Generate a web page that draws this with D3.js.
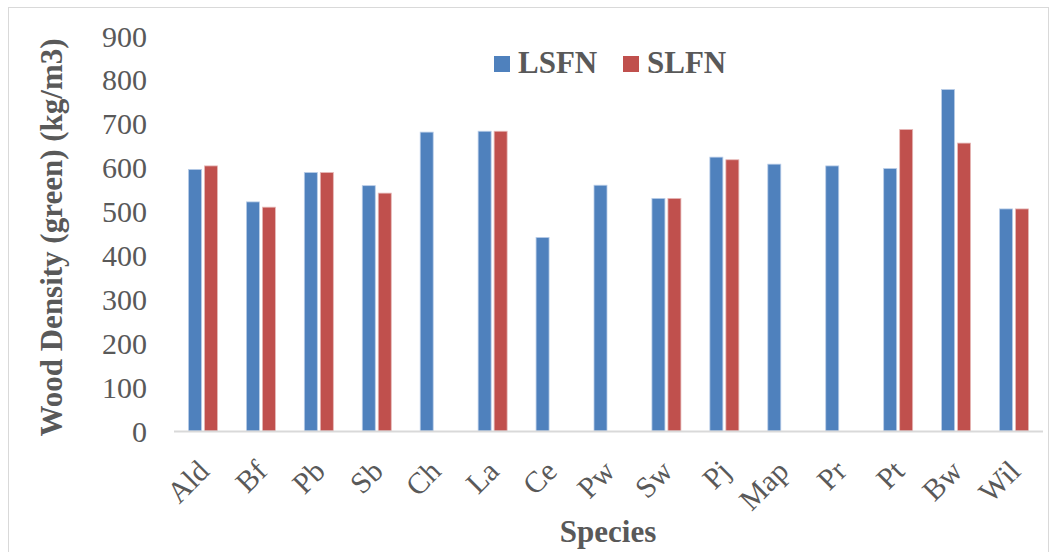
<!DOCTYPE html>
<html><head><meta charset="utf-8">
<script src="https://cdn.jsdelivr.net/npm/d3@7"></script>
<style>body{margin:0;background:#fff}svg{display:block}</style>
</head><body>
<script>
const categories = ["Ald","Bf","Pb","Sb","Ch","La","Ce","Pw","Sw","Pj","Map","Pr","Pt","Bw","Wil"];
const seriesNames = ["LSFN","SLFN"];
const lsfn = [596,522,589,559,681,683,441,560,530,624,608,604,598,778,506];
const slfn = [604,510,589,542,null,683,null,null,530,618,null,null,687,656,506];
const yTicks = [0,100,200,300,400,500,600,700,800,900];
const colors = ["#4F81BD","#C0504D"];

(function(){
const W = 1052, H = 552;
const svg = d3.select("body").append("svg").attr("width", W).attr("height", H);
svg.append("rect").attr("x",8.5).attr("y",7.5).attr("width",1040).attr("height",560)
  .attr("fill","#fff").attr("stroke","#d9d9d9");

const pLeft = 174, pRight = 1043, pTop = 36, pBottom = 431;
const x = d3.scaleBand().domain(categories).range([pLeft, pRight]);
const y = d3.scaleLinear().domain([0, 900]).range([pBottom, pTop]);
const barW = 13, gap = 3;

const font = "'Liberation Serif','Times New Roman',serif";
const txt = "#595959";

svg.append("g").selectAll("text").data(yTicks).join("text")
  .attr("x", 147).attr("y", d => y(d)).attr("dy","0.35em")
  .attr("text-anchor","end").attr("font-family",font).attr("font-size",30)
  .attr("fill",txt).text(d => d);

const data = [];
categories.forEach((c,i) => {
  [lsfn[i], slfn[i]].forEach((v,s) => { if (v != null) data.push({c, v, s}); });
});
svg.append("g").selectAll("rect").data(data).join("rect")
  .attr("x", d => x(d.c) + x.bandwidth()/2 + (d.s === 0 ? -(barW + gap/2) : gap/2))
  .attr("y", d => y(d.v)).attr("width", barW).attr("height", d => pBottom - y(d.v))
  .attr("fill", d => colors[d.s])
  .attr("stroke", d => d.s === 0 ? "#b9cde8" : "#e6b9b8").attr("stroke-width", 0.8);

svg.append("line").attr("x1", pLeft).attr("x2", pRight).attr("y1", pBottom+0.5).attr("y2", pBottom+0.5)
  .attr("stroke","#d9d9d9").attr("stroke-width",2);

svg.append("g").selectAll("text").data(categories).join("text")
  .attr("transform", d => `translate(${x(d) + x.bandwidth()/2 + 8},${pBottom + 42}) rotate(-45)`)
  .attr("text-anchor","end").attr("font-family",font).attr("font-size",30)
  .attr("fill",txt).text(d => d);

svg.append("text").attr("transform", `translate(62,${(pTop+pBottom)/2+4}) rotate(-90)`)
  .attr("text-anchor","middle").attr("font-family",font).attr("font-size",31).attr("font-weight","bold")
  .attr("fill",txt).text("Wood Density (green) (kg/m3)");
svg.append("text").attr("x", 608).attr("y", 542)
  .attr("text-anchor","middle").attr("font-family",font).attr("font-size",31).attr("font-weight","bold")
  .attr("fill",txt).text("Species");

const leg = svg.append("g");
const legX = [494, 623];
seriesNames.forEach((n,i) => {
  leg.append("rect").attr("x", legX[i]).attr("y", 56).attr("width", 16).attr("height", 16).attr("fill", colors[i]);
  leg.append("text").attr("x", legX[i] + 24).attr("y", 73).attr("font-family",font).attr("font-size",31)
    .attr("font-weight","bold").attr("fill",txt).text(n);
});
})();
</script>
</body></html>
